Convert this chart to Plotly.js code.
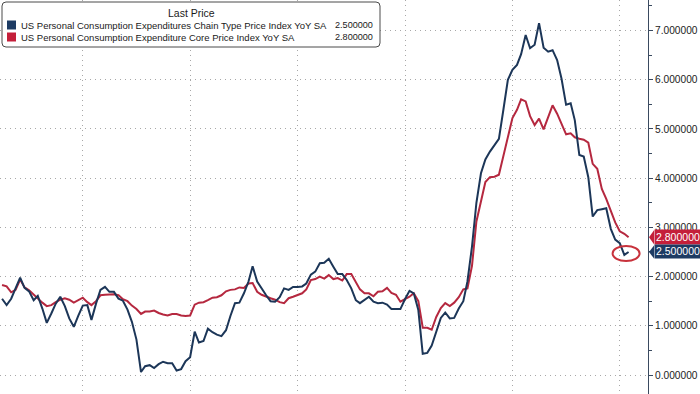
<!DOCTYPE html>
<html>
<head>
<meta charset="utf-8">
<script src="https://cdn.plot.ly/plotly-3.0.1.min.js"></script>
<style>
  html, body { margin: 0; padding: 0; background: #ffffff; }
  #chart { width: 700px; height: 394px; }
</style>
</head>
<body>
<div id="chart"></div>
<script>
// ---------- DATA (monthly, month-end, Jun 2012 .. Feb 2024) ----------
const startYear = 2012;
const startMonth = 6;   // June
const seriesNames = [
  'US Personal Consumption Expenditures Chain Type Price Index YoY SA',
  'US Personal Consumption Expenditure Core Price Index YoY SA'
];
const legendTitle = 'Last Price';

const pceHeadline = [
  1.55, 1.42, 1.55, 1.75, 1.98, 1.77, 1.70,
  1.52, 1.61, 1.35, 1.06, 1.25, 1.45, 1.59, 1.40, 1.15, 0.98, 1.20, 1.41,
  1.42, 1.12, 1.45, 1.73, 1.79, 1.69, 1.69, 1.55, 1.51, 1.33, 1.08, 0.72,
  0.06, 0.18, 0.20, 0.14, 0.22, 0.27, 0.24, 0.24, 0.09, 0.12, 0.28, 0.36,
  0.88, 0.66, 0.69, 0.94, 0.87, 0.82, 0.79, 0.91, 1.20, 1.46, 1.47, 1.66,
  1.90, 2.21, 1.90, 1.75, 1.62, 1.50, 1.49, 1.58, 1.76, 1.73, 1.79, 1.79,
  1.80, 1.86, 2.04, 2.10, 2.27, 2.28, 2.36, 2.20, 2.05, 2.05, 1.93, 1.76,
  1.52, 1.46, 1.52, 1.59, 1.49, 1.46, 1.47, 1.43, 1.34, 1.34, 1.34, 1.54,
  1.71, 1.66, 1.32, 0.43, 0.45, 0.60, 0.88, 1.16, 1.27, 1.15, 1.16, 1.35,
  1.50, 1.90, 2.61, 3.50, 4.10, 4.38, 4.54, 4.66, 4.80, 5.40, 6.00, 6.20,
  6.30, 6.52, 6.91, 6.64, 6.71, 7.15, 6.65, 6.57, 6.60, 6.40, 6.02, 5.49,
  5.52, 5.18, 4.47, 4.44, 4.02, 3.22, 3.35, 3.37, 3.39, 2.97, 2.75, 2.68,
  2.44, 2.50
];

const pceCore = [
  1.83, 1.80, 1.68, 1.73, 1.94, 1.78, 1.72,
  1.63, 1.56, 1.47, 1.40, 1.42, 1.48, 1.53, 1.56, 1.53, 1.47, 1.52, 1.57,
  1.48, 1.42, 1.50, 1.62, 1.63, 1.63, 1.64, 1.62, 1.54, 1.50, 1.41, 1.34,
  1.24, 1.29, 1.29, 1.31, 1.26, 1.23, 1.21, 1.24, 1.24, 1.21, 1.20, 1.21,
  1.43, 1.47, 1.48, 1.52, 1.57, 1.58, 1.62, 1.70, 1.73, 1.74, 1.78, 1.77,
  1.86, 1.87, 1.69, 1.63, 1.59, 1.56, 1.53, 1.48, 1.46, 1.56, 1.59, 1.63,
  1.66, 1.74, 1.93, 1.95, 2.00, 1.96, 2.03, 1.95, 1.97, 1.92, 2.05, 2.05,
  1.88, 1.74, 1.66, 1.66, 1.60, 1.69, 1.70, 1.77, 1.67, 1.63, 1.49, 1.54,
  1.59, 1.66, 1.50, 0.96, 0.96, 0.92, 1.18, 1.36, 1.46, 1.40, 1.47, 1.58,
  1.74, 1.76, 2.22, 3.12, 3.55, 3.92, 4.02, 4.03, 4.07, 4.48, 4.87, 5.22,
  5.39, 5.60, 5.56, 5.26, 5.08, 5.21, 4.99, 5.25, 5.48, 5.31, 5.10, 4.89,
  4.91, 4.83, 4.80, 4.78, 4.72, 4.29, 4.19, 3.78, 3.58, 3.35, 3.10, 2.92,
  2.87, 2.80
];

const yTickVals = [0, 1, 2, 3, 4, 5, 6, 7];
const lastHeadline = 2.5;
const lastCore = 2.8;

// ---------- month-end dates ----------
function monthEnd(y, m) { // m: 1..12
  const d = new Date(Date.UTC(y, m, 0));
  return d.toISOString().slice(0, 10);
}
const dates = [];
for (let i = 0; i < pceHeadline.length; i++) {
  const tot = (startMonth - 1) + i;
  dates.push(monthEnd(startYear + Math.floor(tot / 12), (tot % 12) + 1));
}

// ---------- styles ----------
const blueLine = '#1c3658';
const redLine = '#b5283f';
const blueTag = '#1d3b63';
const redTag = '#c41f3a';
const gridCol = '#a8a8a8';
const txtFont = 'Liberation Sans, Arial, sans-serif';

const traces = [
  { x: dates, y: pceCore, type: 'scatter', mode: 'lines', name: seriesNames[1],
    line: { color: redLine, width: 2 }, hoverinfo: 'skip' },
  { x: dates, y: pceHeadline, type: 'scatter', mode: 'lines', name: seriesNames[0],
    line: { color: blueLine, width: 2 }, hoverinfo: 'skip' }
];

const lastDate = dates[dates.length - 1];

function pxShape(path, fill, lineCol, lw) {
  return { type: 'path', xref: 'paper', yref: 'paper', xsizemode: 'pixel', ysizemode: 'pixel',
    xanchor: 0, yanchor: 1, path: path, fillcolor: fill,
    line: { color: lineCol, width: lw }, layer: 'above' };
}
function roundRect(x0, y0, x1, y1, r) {
  const Y = v => -v;
  return `M ${x0 + r} ${Y(y0)} L ${x1 - r} ${Y(y0)} Q ${x1} ${Y(y0)} ${x1} ${Y(y0 + r)} ` +
         `L ${x1} ${Y(y1 - r)} Q ${x1} ${Y(y1)} ${x1 - r} ${Y(y1)} L ${x0 + r} ${Y(y1)} ` +
         `Q ${x0} ${Y(y1)} ${x0} ${Y(y1 - r)} L ${x0} ${Y(y0 + r)} Q ${x0} ${Y(y0)} ${x0 + r} ${Y(y0)} Z`;
}
function rectPx(x0, y0, x1, y1) {
  return `M ${x0} ${-y0} L ${x1} ${-y0} L ${x1} ${-y1} L ${x0} ${-y1} Z`;
}

const shapes = [
  pxShape(roundRect(2, 2, 380, 47, 4), '#ffffff', '#4a4a4a', 1),
  pxShape(rectPx(7, 20.5, 16, 29.5), blueTag, blueTag, 0),
  pxShape(rectPx(7, 32.5, 16, 41.5), redTag, redTag, 0),
  { type: 'path', xref: 'paper', yref: 'y', xsizemode: 'pixel', ysizemode: 'pixel',
    xanchor: 1, yanchor: lastCore, path: 'M 1 0 L 6 7 L 6 -7 Z',
    fillcolor: redTag, line: { width: 0 } },
  { type: 'path', xref: 'paper', yref: 'y', xsizemode: 'pixel', ysizemode: 'pixel',
    xanchor: 1, yanchor: lastHeadline, path: 'M 1 0 L 6 6.5 L 6 -6.5 Z',
    fillcolor: blueTag, line: { width: 0 } },
  { type: 'circle', xref: 'x', yref: 'y', xsizemode: 'pixel', ysizemode: 'pixel',
    xanchor: lastDate, yanchor: pceHeadline[pceHeadline.length - 1],
    x0: -16, x1: 11, y0: -9, y1: 6,
    line: { color: '#c8323c', width: 2 }, fillcolor: 'rgba(0,0,0,0)' }
];

function legendText(text, px, py, anchor, size) {
  return { xref: 'paper', yref: 'paper', x: 0, y: 1, xshift: px, yshift: -py,
    xanchor: anchor, yanchor: 'middle', text: text, showarrow: false,
    font: { family: txtFont, size: size, color: '#1a1a1a' } };
}

const annotations = [
  legendText(legendTitle, 191, 13, 'center', 10.5),
  legendText(seriesNames[0], 19, 25, 'left', 9.5),
  legendText(seriesNames[1], 19, 37, 'left', 9.5),
  legendText(pceHeadline[pceHeadline.length - 1].toFixed(6), 375, 25, 'right', 9.1),
  legendText(pceCore[pceCore.length - 1].toFixed(6), 375, 37, 'right', 9.1),
  { xref: 'paper', yref: 'y', x: 1, y: lastCore, xanchor: 'left', yanchor: 'middle',
    xshift: 6, text: lastCore.toFixed(6), showarrow: false, bgcolor: redTag,
    borderpad: 0, width: 46, height: 13.5, font: { family: txtFont, size: 10.5, color: '#ffffff' } },
  { xref: 'paper', yref: 'y', x: 1, y: lastHeadline, xanchor: 'left', yanchor: 'middle',
    xshift: 6, text: lastHeadline.toFixed(6), showarrow: false, bgcolor: blueTag,
    borderpad: 0, width: 46, height: 12.5, font: { family: txtFont, size: 10.5, color: '#ffffff' } }
];

const layout = {
  width: 700, height: 394,
  margin: { l: 0, r: 52, t: 0, b: 0, pad: 0 },
  paper_bgcolor: '#ffffff', plot_bgcolor: '#ffffff',
  showlegend: false,
  xaxis: {
    type: 'date', range: ['2012-06-16', '2024-07-10'],
    tick0: '2014-01-01', dtick: 'M24',
    showgrid: true, gridcolor: gridCol, gridwidth: 1, griddash: '1px,4px',
    showticklabels: false, ticks: '', showline: false, zeroline: false
  },
  yaxis: {
    side: 'right', range: [-0.386, 7.62],
    tickvals: yTickVals, tickformat: '.6f',
    ticks: 'outside', ticklen: 4, tickwidth: 1, tickcolor: '#3a4a60',
    showline: true, linecolor: '#3a4a60', linewidth: 1,
    showgrid: true, gridcolor: gridCol, gridwidth: 1, griddash: '1px,4px',
    zeroline: false,
    tickfont: { family: txtFont, size: 10.2, color: '#222222' },
    minor: { dtick: 0.5, tick0: 0, ticks: 'outside', ticklen: 3, tickcolor: '#3a4a60', showgrid: false }
  },
  shapes: shapes,
  annotations: annotations
};

Plotly.newPlot('chart', traces, layout, { displayModeBar: false, staticPlot: true });
</script>
</body>
</html>
